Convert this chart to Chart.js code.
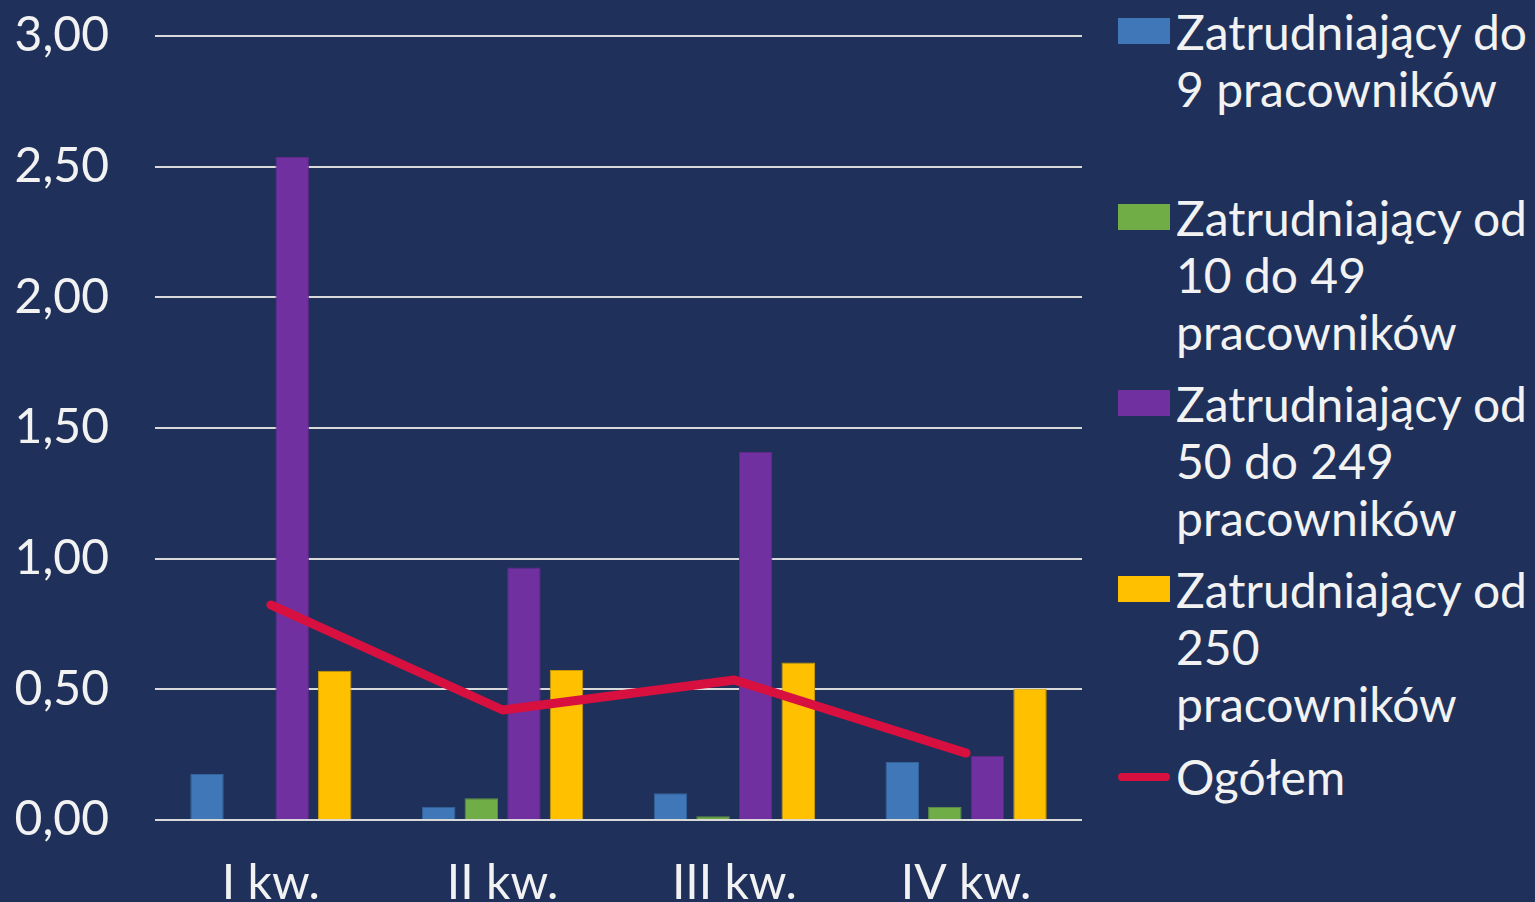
<!DOCTYPE html>
<html lang="pl">
<head>
<meta charset="utf-8">
<script src="https://cdn.jsdelivr.net/npm/chart.js@4/dist/chart.umd.min.js"></script>
<style>
  html, body { margin: 0; padding: 0; background: #1f305a; overflow: hidden; }
  #wrap { position: absolute; left: 0; top: 0; width: 1100px; height: 902px; }
  #legend { position: absolute; left: 1118px; top: 0; width: 417px; height: 902px;
            font-family: Lato, sans-serif; font-size: 48px; color: #f2f2f2; }
  .item { position: absolute; left: 0; }
  .mark { position: absolute; left: 0; width: 52px; height: 26px; top: 15px; }
  .mark.line { height: 8px; top: 25px; border-radius: 4px; }
  .txt { position: absolute; left: 58px; line-height: 57px; white-space: nowrap; }
</style>
</head>
<body>
<div id="wrap"><canvas id="chart"></canvas></div>
<div id="legend"></div>
<script>
// dane
const categories = ["I kw.", "II kw.", "III kw.", "IV kw."];
const do9 = [0.176, 0.051, 0.102, 0.222];
const od10do49 = [0, 0.083, 0.014, 0.051];
const od50do249 = [2.537, 0.966, 1.408, 0.245];
const od250 = [0.571, 0.574, 0.603, 0.502];
const ogolem = [0.823, 0.421, 0.536, 0.256];
const yTicks = [0, 0.5, 1, 1.5, 2, 2.5, 3];

const seriesLabels = [
    ["Zatrudniający do", "9 pracowników"],
    ["Zatrudniający od", "10 do 49", "pracowników"],
    ["Zatrudniający od", "50 do 249", "pracowników"],
    ["Zatrudniający od", "250", "pracowników"],
    ["Ogółem"]
];

const colors = ["#3f77b9", "#70ad47", "#7030a0", "#ffc000", "#d7103f"];
const borders = ["#35649c", "#5f9440", "#5f2988", "#c99a00"];

function bar(i, data) {
    return {
        type: "bar",
        label: seriesLabels[i].join(" "),
        data,
        backgroundColor: colors[i],
        borderColor: borders[i],
        borderWidth: 1,
        categoryPercentage: 0.735,
        barPercentage: 0.786,
        order: 1
    };
}

// etykiety osi X rysowane ręcznie (linia bazowa tuż przy dolnej krawędzi)
const xLabels = {
    id: "xLabels",
    afterDraw(chart) {
        const ctx = chart.ctx;
        const sx = chart.scales.x;
        ctx.save();
        ctx.font = "48px Lato";
        ctx.fillStyle = "#f2f2f2";
        ctx.textAlign = "center";
        ctx.textBaseline = "alphabetic";
        categories.forEach((c, i) => {
            ctx.fillText(c, sx.getPixelForTick(i), 899);
        });
        ctx.restore();
    }
};

const chart = new Chart(document.getElementById("chart"), {
    data: {
        labels: categories,
        datasets: [
            {
                type: "line",
                label: seriesLabels[4].join(" "),
                data: ogolem,
                borderColor: colors[4],
                borderWidth: 9,
                borderCapStyle: "round",
                borderJoinStyle: "round",
                pointRadius: 0,
                tension: 0,
                order: 0
            },
            bar(0, do9),
            bar(1, od10do49),
            bar(2, od50do249),
            bar(3, od250)
        ]
    },
    options: {
        responsive: true,
        maintainAspectRatio: false,
        animation: false,
        layout: { padding: { top: 36, right: 18, left: 0, bottom: 0 } },
        scales: {
            x: {
                grid: { display: false },
                border: { display: false },
                ticks: { display: false },
                afterFit: s => { s.height = 82; }
            },
            y: {
                min: 0,
                max: 3,
                afterBuildTicks: s => { s.ticks = yTicks.map(v => ({ value: v })); },
                afterFit: s => {
                    s.width = 155;
                    s.paddingTop = 0;
                    s.paddingBottom = 0;
                },
                grid: { color: "#d9d9d9", lineWidth: 2, drawTicks: false },
                border: { display: false },
                ticks: {
                    padding: 46,
                    color: "#f2f2f2",
                    font: { family: "Lato", size: 48 },
                    callback: v => v.toFixed(2).replace(".", ",")
                }
            }
        },
        plugins: {
            legend: { display: false },
            tooltip: { enabled: false }
        }
    },
    plugins: [xLabels]
});

// legenda
const legend = document.getElementById("legend");
const legendOrder = [1, 2, 3, 4, 0];
legendOrder.forEach((di, k) => {
    const ds = chart.data.datasets[di];
    const item = document.createElement("div");
    item.className = "item";
    item.style.top = (2.5 + k * 186.25) + "px";
    const mark = document.createElement("div");
    mark.className = ds.type === "line" ? "mark line" : "mark";
    mark.style.background = ds.type === "line" ? ds.borderColor : ds.backgroundColor;
    const txt = document.createElement("div");
    txt.className = "txt";
    txt.innerHTML = seriesLabels[k].join("<br>");
    item.appendChild(mark);
    item.appendChild(txt);
    legend.appendChild(item);
});
</script>
</body>
</html>
